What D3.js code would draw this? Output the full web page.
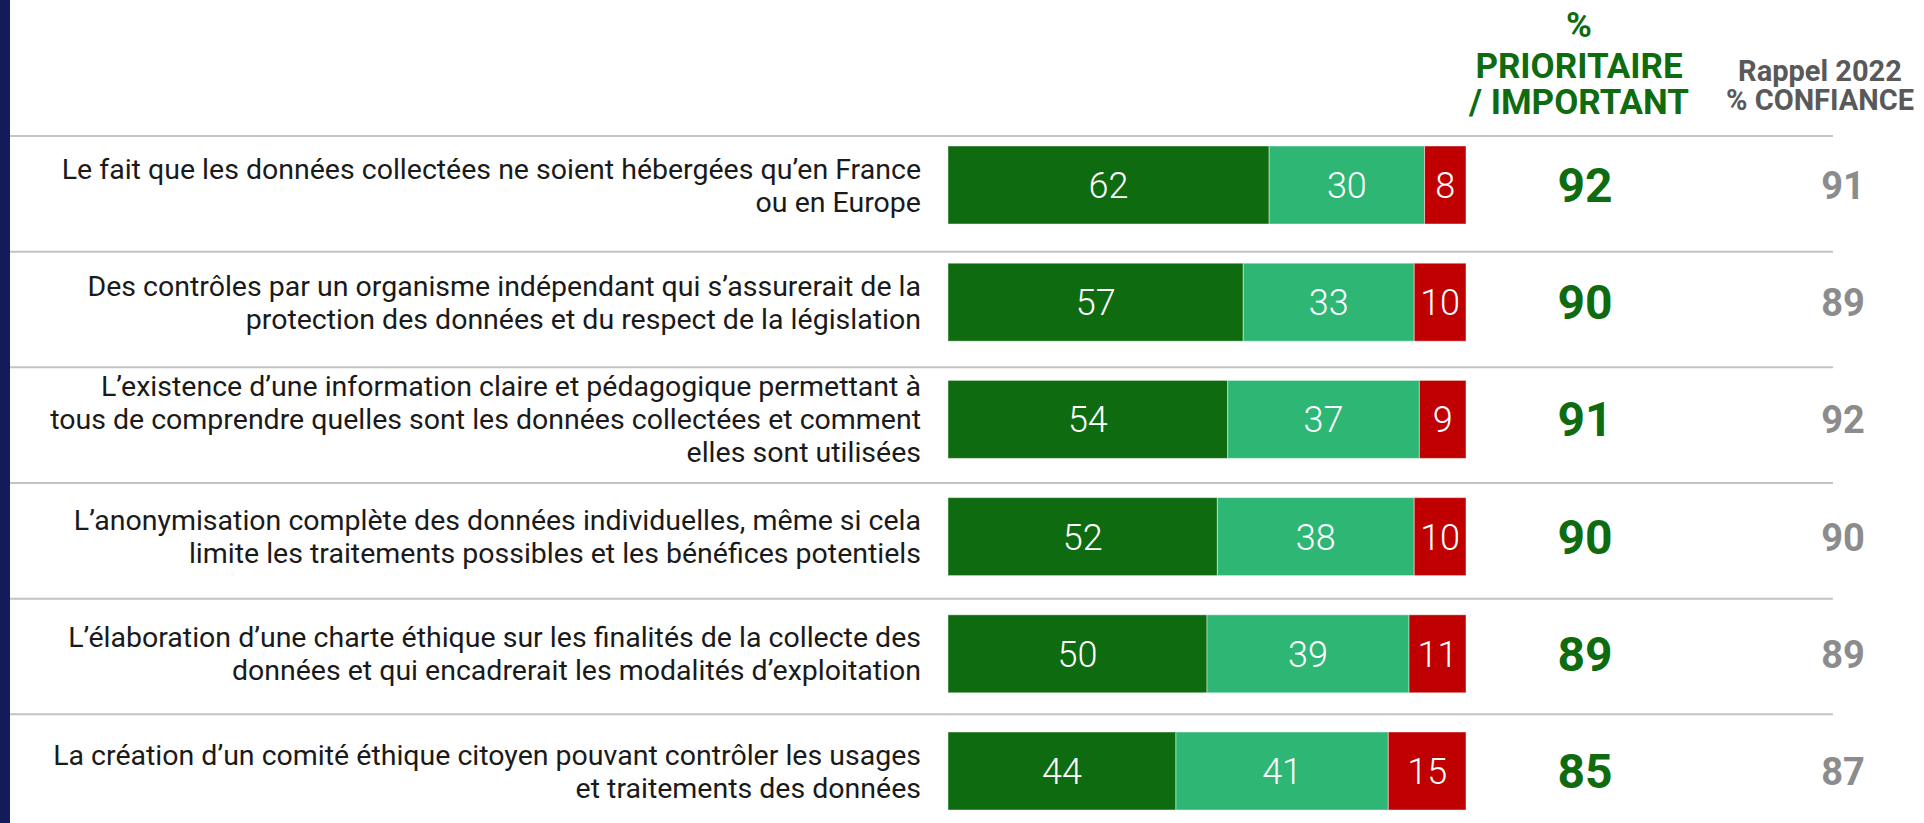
<!DOCTYPE html>
<html>
<head>
<meta charset="utf-8">
<script src="https://cdn.jsdelivr.net/npm/d3@7"></script>
<style>
  body { margin: 0; background: #fff; }
  svg { display: block; }
  text { font-family: Roboto, "Noto Sans", sans-serif; }
</style>
</head>
<body>
<svg id="chart" width="1924" height="823"></svg>
<script>
const items = [
  ["Le fait que les données collectées ne soient hébergées qu’en France", "ou en Europe"],
  ["Des contrôles par un organisme indépendant qui s’assurerait de la", "protection des données et du respect de la législation"],
  ["L’existence d’une information claire et pédagogique permettant à", "tous de comprendre quelles sont les données collectées et comment", "elles sont utilisées"],
  ["L’anonymisation complète des données individuelles, même si cela", "limite les traitements possibles et les bénéfices potentiels"],
  ["L’élaboration d’une charte éthique sur les finalités de la collecte des", "données et qui encadrerait les modalités d’exploitation"],
  ["La création d’un comité éthique citoyen pouvant contrôler les usages", "et traitements des données"]
];
const prioritaire = [62, 57, 54, 52, 50, 44];
const important = [30, 33, 37, 38, 39, 41];
const secondaire = [8, 10, 9, 10, 11, 15];
const totalPrioImp = [92, 90, 91, 90, 89, 85];
const rappel2022 = [91, 89, 92, 90, 89, 87];
const headerTotal = ["%", "PRIORITAIRE", "/ IMPORTANT"];
const headerRappel = ["Rappel 2022", "% CONFIANCE"];
const seriesColors = ["#0e6b0f", "#2eb674", "#c00000"];

const svg = d3.select("#chart");

// left navy stripe
svg.append("rect").attr("x", 0).attr("y", 0).attr("width", 10).attr("height", 823).attr("fill", "#131b5b");

const x = d3.scaleLinear().domain([0, 100]).range([948, 1466]);
const yBar = d3.scalePoint().domain(d3.range(items.length)).range([185, 771]);
const yLine = d3.scaleLinear().domain([0, items.length]).range([136, 830]);

// separators
svg.append("g").selectAll("line")
  .data(d3.range(items.length + 1))
  .enter().append("line")
  .attr("x1", 10).attr("x2", 1833)
  .attr("y1", d => yLine(d)).attr("y2", d => yLine(d))
  .attr("stroke", "#c3c3c3").attr("stroke-width", 2);

// headers (one text each, lines as tspans)
const h1 = svg.append("text").attr("text-anchor", "middle").attr("font-weight", 700)
  .attr("font-size", 35).attr("fill", "#0e6b0f");
headerTotal.forEach((d, i) => {
  h1.append("tspan").attr("x", 1579).attr("y", [37, 78, 114][i]).text(d);
});
const h2 = svg.append("text").attr("text-anchor", "middle").attr("font-weight", 700)
  .attr("font-size", 29).attr("fill", "#595959");
headerRappel.forEach((d, i) => {
  h2.append("tspan").attr("x", 1820).attr("y", [81, 110][i]).text(d);
});

// row labels
const labels = svg.append("g").attr("text-anchor", "end").attr("font-size", 28.5).attr("fill", "#1a1a1a");
items.forEach((lines, i) => {
  const t = labels.append("text").attr("transform", `translate(921,${yBar(i)})`);
  lines.forEach((ln, j) => {
    t.append("tspan").attr("x", 0)
      .attr("y", (j - (lines.length - 1) / 2) * 33 + 10)
      .text(ln);
  });
});

// stacked bars
const rows = items.map((d, i) => [prioritaire[i], important[i], secondaire[i]]);
const barH = 78;
const barG = svg.append("g");
rows.forEach((vals, i) => {
  let acc = 0;
  const segs = vals.map((v, k) => { const s = { k, v, x0: acc, x1: acc + v }; acc += v; return s; });
  const g = barG.append("g");
  g.selectAll("rect").data(segs).enter().append("rect")
    .attr("x", d => x(d.x0)).attr("width", d => x(d.x1) - x(d.x0))
    .attr("y", yBar(i) - barH / 2).attr("height", barH)
    .attr("fill", d => seriesColors[d.k])
    .attr("stroke", "rgba(255,255,255,0.45)").attr("stroke-width", 1);
  g.selectAll("text").data(segs).enter().append("text")
    .attr("x", d => (x(d.x0) + x(d.x1)) / 2).attr("y", yBar(i) + 13)
    .attr("text-anchor", "middle").attr("font-size", 36).attr("font-weight", 300)
    .attr("fill", "#fff")
    .text(d => d.v);
});

// totals and 2022 reminder
svg.append("g").selectAll("text").data(totalPrioImp).enter().append("text")
  .attr("x", 1585).attr("y", (d, i) => yBar(i) + 17)
  .attr("text-anchor", "middle").attr("font-size", 48).attr("font-weight", 700)
  .attr("fill", "#0e6b0f").text(d => d);
svg.append("g").selectAll("text").data(rappel2022).enter().append("text")
  .attr("x", 1843).attr("y", (d, i) => yBar(i) + 14)
  .attr("text-anchor", "middle").attr("font-size", 38).attr("font-weight", 700)
  .attr("fill", "#8c8c8c").text(d => d);
</script>
</body>
</html>
